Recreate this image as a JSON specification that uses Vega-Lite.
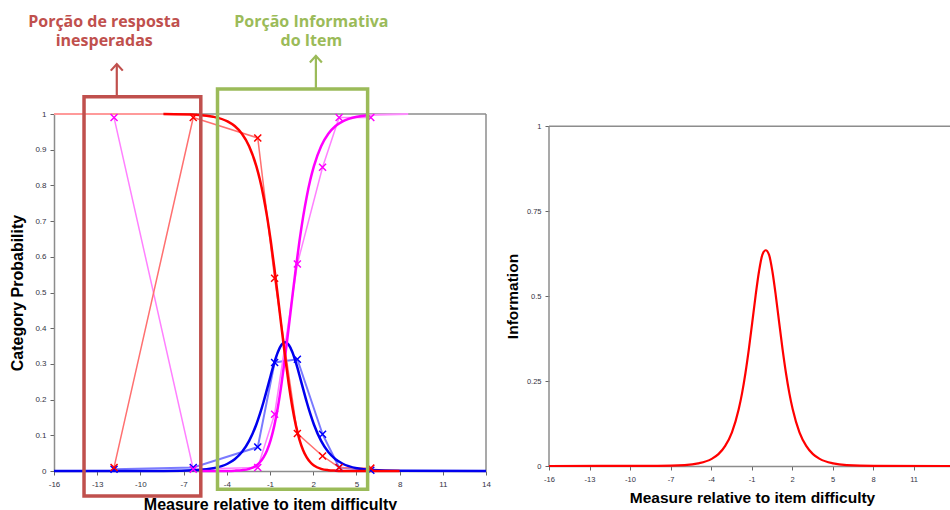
{
  "$schema": "https://vega.github.io/schema/vega-lite/v6.json",
  "padding": {"left": 9, "top": 13, "right": 0, "bottom": 0},
  "background": "white",
  "bounds": "flush",
  "spacing": 63,
  "config": {
    "view": {"stroke": null},
    "font": "Liberation Sans",
    "axis": {"grid": false, "domainColor": "#8c8c8c", "domainWidth": 1.5, "tickColor": "#666666", "tickSize": 4, "tickWidth": 1, "labelFont": "Liberation Sans", "labelFontSize": 8, "labelColor": "#333344", "labelPadding": 4, "titleFont": "Liberation Sans", "titleFontWeight": "bold", "titleColor": "#000000", "labelFlush": false, "labelOverlap": false, "labelExpr": "'' + datum.value"}
  },
  "datasets": {
    "model": [
      {"s":"P1","x":-16,"y":0},{"s":"P1","x":-8.4,"y":0.0003},{"s":"P1","x":-5.95,"y":0.0028},{"s":"P1","x":-4.95,"y":0.0075},{"s":"P1","x":-3.95,"y":0.0203},{"s":"P1","x":-3.45,"y":0.0329},{"s":"P1","x":-2.95,"y":0.053},{"s":"P1","x":-2.45,"y":0.0842},{"s":"P1","x":-1.95,"y":0.1303},{"s":"P1","x":-1.7,"y":0.1598},{"s":"P1","x":-1.45,"y":0.1933},{"s":"P1","x":-1.2,"y":0.2299},{"s":"P1","x":-0.95,"y":0.2676},{"s":"P1","x":-0.7,"y":0.3033},{"s":"P1","x":-0.45,"y":0.3333},{"s":"P1","x":-0.2,"y":0.3534},{"s":"P1","x":0.05,"y":0.3605},{"s":"P1","x":0.3,"y":0.3534},{"s":"P1","x":0.55,"y":0.3333},{"s":"P1","x":0.8,"y":0.3033},{"s":"P1","x":1.05,"y":0.2676},{"s":"P1","x":1.3,"y":0.2299},{"s":"P1","x":1.55,"y":0.1933},{"s":"P1","x":1.8,"y":0.1598},{"s":"P1","x":2.05,"y":0.1303},{"s":"P1","x":2.55,"y":0.0842},{"s":"P1","x":3.05,"y":0.053},{"s":"P1","x":3.55,"y":0.0329},{"s":"P1","x":4.05,"y":0.0203},{"s":"P1","x":5.05,"y":0.0075},{"s":"P1","x":6.05,"y":0.0028},{"s":"P1","x":8,"y":0.0004},{"s":"P1","x":14,"y":0},
      {"s":"P2","x":-5.8,"y":0},{"s":"P2","x":-4.95,"y":0},{"s":"P2","x":-3.95,"y":0.0003},{"s":"P2","x":-3.45,"y":0.0009},{"s":"P2","x":-2.95,"y":0.0023},{"s":"P2","x":-2.45,"y":0.0061},{"s":"P2","x":-1.95,"y":0.0156},{"s":"P2","x":-1.7,"y":0.0246},{"s":"P2","x":-1.45,"y":0.0383},{"s":"P2","x":-1.2,"y":0.0584},{"s":"P2","x":-0.95,"y":0.0873},{"s":"P2","x":-0.7,"y":0.1271},{"s":"P2","x":-0.45,"y":0.1793},{"s":"P2","x":-0.2,"y":0.2441},{"s":"P2","x":0.05,"y":0.3197},{"s":"P2","x":0.3,"y":0.4025},{"s":"P2","x":0.55,"y":0.4874},{"s":"P2","x":0.8,"y":0.5696},{"s":"P2","x":1.05,"y":0.6451},{"s":"P2","x":1.3,"y":0.7117},{"s":"P2","x":1.55,"y":0.7684},{"s":"P2","x":1.8,"y":0.8156},{"s":"P2","x":2.05,"y":0.854},{"s":"P2","x":2.55,"y":0.9097},{"s":"P2","x":3.05,"y":0.9446},{"s":"P2","x":3.55,"y":0.9663},{"s":"P2","x":4.05,"y":0.9794},{"s":"P2","x":5.05,"y":0.9924},{"s":"P2","x":5.8,"y":0.9965},
      {"s":"P0","x":-8.4,"y":0.9997},{"s":"P0","x":-5.95,"y":0.9972},{"s":"P0","x":-4.95,"y":0.9924},{"s":"P0","x":-3.95,"y":0.9794},{"s":"P0","x":-3.45,"y":0.9663},{"s":"P0","x":-2.95,"y":0.9446},{"s":"P0","x":-2.45,"y":0.9097},{"s":"P0","x":-1.95,"y":0.854},{"s":"P0","x":-1.7,"y":0.8156},{"s":"P0","x":-1.45,"y":0.7684},{"s":"P0","x":-1.2,"y":0.7117},{"s":"P0","x":-0.95,"y":0.6451},{"s":"P0","x":-0.7,"y":0.5696},{"s":"P0","x":-0.45,"y":0.4874},{"s":"P0","x":-0.2,"y":0.4025},{"s":"P0","x":0.05,"y":0.3197},{"s":"P0","x":0.3,"y":0.2441},{"s":"P0","x":0.55,"y":0.1793},{"s":"P0","x":0.8,"y":0.1271},{"s":"P0","x":1.05,"y":0.0873},{"s":"P0","x":1.3,"y":0.0584},{"s":"P0","x":1.55,"y":0.0383},{"s":"P0","x":1.8,"y":0.0246},{"s":"P0","x":2.05,"y":0.0156},{"s":"P0","x":2.55,"y":0.0061},{"s":"P0","x":3.05,"y":0.0023},{"s":"P0","x":3.55,"y":0.0009},{"s":"P0","x":4.05,"y":0.0003},{"s":"P0","x":5.05,"y":0},{"s":"P0","x":8,"y":0}
    ],
    "edges": [
      {"s":"L0","x":-16,"y":1},{"s":"L0","x":-8.4,"y":1},
      {"s":"L2","x":5.8,"y":0.997},{"s":"L2","x":8.6,"y":1}
    ],
    "empirical": [
      {"s":"E0","x":-11.83,"y":0.01},{"s":"E0","x":-6.33,"y":0.99},{"s":"E0","x":-1.85,"y":0.933},{"s":"E0","x":-0.68,"y":0.54},{"s":"E0","x":0.9,"y":0.105},{"s":"E0","x":2.65,"y":0.042},{"s":"E0","x":3.8,"y":0.01},{"s":"E0","x":6.0,"y":0.008},
      {"s":"E1","x":-11.83,"y":0.005},{"s":"E1","x":-6.33,"y":0.01},{"s":"E1","x":-1.85,"y":0.067},{"s":"E1","x":-0.68,"y":0.304},{"s":"E1","x":0.9,"y":0.313},{"s":"E1","x":2.65,"y":0.103},{"s":"E1","x":3.8,"y":0.01},{"s":"E1","x":6.0,"y":0.002},
      {"s":"E2","x":-11.83,"y":0.99},{"s":"E2","x":-6.33,"y":0.005},{"s":"E2","x":-1.85,"y":0.01},{"s":"E2","x":-0.68,"y":0.159},{"s":"E2","x":0.9,"y":0.58},{"s":"E2","x":2.65,"y":0.851},{"s":"E2","x":3.8,"y":0.99},{"s":"E2","x":6.0,"y":0.99}
    ],
    "frameL": [
      {"x":-16,"x2":14,"y":1,"y2":1},{"x":14,"x2":14,"y":0,"y2":1}
    ],
    "boxes": [
      {"b":"red","x":-13.915,"x2":-5.806,"y":1.048,"y2":-0.07},
      {"b":"green","x":-4.645,"x2":5.779,"y":1.07,"y2":-0.051}
    ],
    "arrows": [
      {"b":"red","x":-11.64,"y":1.048,"y2":1.14},
      {"b":"green","x":2.186,"y":1.07,"y2":1.163}
    ],
    "labels": [
      {"b":"red","t":"Porção de resposta","x":-12.51,"y":1.245},
      {"b":"red","t":"inesperadas","x":-12.51,"y":1.191},
      {"b":"green","t":"Porção Informativa","x":1.873,"y":1.245},
      {"b":"green","t":"do Item","x":1.873,"y":1.191}
    ],
    "frameR": [
      {"x":-16,"x2":13.7,"y":1,"y2":1},{"x":-16,"x2":-16,"y":0,"y2":1}
    ],
    "info": [
      {"x":-16,"y":0},{"x":-7.95,"y":0.0004},{"x":-5.95,"y":0.0028},{"x":-4.95,"y":0.0078},{"x":-3.95,"y":0.0211},{"x":-3.45,"y":0.0349},{"x":-2.95,"y":0.0593},{"x":-2.45,"y":0.0993},{"x":-1.95,"y":0.167},{"x":-1.7,"y":0.2145},{"x":-1.45,"y":0.2737},{"x":-1.2,"y":0.3433},{"x":-0.95,"y":0.4213},{"x":-0.7,"y":0.5009},{"x":-0.45,"y":0.5718},{"x":-0.2,"y":0.6215},{"x":0.05,"y":0.635},{"x":0.3,"y":0.6215},{"x":0.55,"y":0.5718},{"x":0.8,"y":0.5009},{"x":1.05,"y":0.4213},{"x":1.3,"y":0.3433},{"x":1.55,"y":0.2737},{"x":1.8,"y":0.2145},{"x":2.05,"y":0.167},{"x":2.55,"y":0.0993},{"x":3.05,"y":0.0593},{"x":3.55,"y":0.0349},{"x":4.05,"y":0.0211},{"x":5.05,"y":0.0078},{"x":6.05,"y":0.0028},{"x":8.05,"y":0.0004},{"x":13.7,"y":0}
    ]
  },
  "hconcat": [
    {
      "width": 432,
      "height": 357,
      "encoding": {
        "x": {"field": "x", "type": "quantitative", "scale": {"domain": [-16, 14], "nice": false, "zero": false},
              "axis": {"values": [-16,-13,-10,-7,-4,-1,2,5,8,11,14], "title": "Measure relative to item difficulty", "titleFontSize": 16, "titlePadding": 8, "labelPadding": 5}},
        "y": {"field": "y", "type": "quantitative", "scale": {"domain": [0, 1], "nice": false, "zero": false},
              "axis": {"values": [0,0.1,0.2,0.3,0.4,0.5,0.6,0.7,0.8,0.9,1], "title": "Category Probability", "titleFontSize": 16, "titlePadding": 9}}
      },
      "layer": [
        {"data": {"name": "frameL"}, "mark": {"type": "rule", "color": "#8c8c8c", "strokeWidth": 1.5},
         "encoding": {"x2": {"field": "x2"}, "y2": {"field": "y2"}}},
        {"data": {"name": "empirical"}, "transform": [{"filter": "datum.s == 'E1'"}],
         "mark": {"type": "line", "color": "#7a7aff", "strokeWidth": 2}, "encoding": {}},
        {"data": {"name": "empirical"}, "transform": [{"filter": "datum.s == 'E2'"}],
         "mark": {"type": "line", "color": "#ff80ff", "strokeWidth": 1.5}, "encoding": {}},
        {"data": {"name": "empirical"}, "transform": [{"filter": "datum.s == 'E0'"}],
         "mark": {"type": "line", "color": "#ff7070", "strokeWidth": 1.5}, "encoding": {}},
        {"data": {"name": "edges"}, "transform": [{"filter": "datum.s == 'L0'"}],
         "mark": {"type": "line", "color": "#ff9a9a", "strokeWidth": 2}, "encoding": {}},
        {"data": {"name": "edges"}, "transform": [{"filter": "datum.s == 'L2'"}],
         "mark": {"type": "line", "color": "#ff8cff", "strokeWidth": 2}, "encoding": {}},
        {"data": {"name": "model"}, "transform": [{"filter": "datum.s == 'P1'"}],
         "mark": {"type": "line", "color": "#0000ee", "strokeWidth": 2.5, "interpolate": "monotone"}, "encoding": {}},
        {"data": {"name": "model"}, "transform": [{"filter": "datum.s == 'P2'"}],
         "mark": {"type": "line", "color": "#ff00ff", "strokeWidth": 2.5, "interpolate": "monotone"}, "encoding": {}},
        {"data": {"name": "model"}, "transform": [{"filter": "datum.s == 'P0'"}],
         "mark": {"type": "line", "color": "#ff0000", "strokeWidth": 2.5, "interpolate": "monotone"}, "encoding": {}},
        {"data": {"name": "empirical"}, "transform": [{"filter": "datum.s == 'E1'"}],
         "mark": {"type": "point", "shape": "M-1,-1L1,1M-1,1L1,-1", "filled": false, "size": 49, "strokeWidth": 1.5, "color": "#0000ff", "opacity": 1}},
        {"data": {"name": "empirical"}, "transform": [{"filter": "datum.s == 'E2'"}],
         "mark": {"type": "point", "shape": "M-1,-1L1,1M-1,1L1,-1", "filled": false, "size": 49, "strokeWidth": 1.5, "color": "#ff00ff", "opacity": 1}},
        {"data": {"name": "empirical"}, "transform": [{"filter": "datum.s == 'E0'"}],
         "mark": {"type": "point", "shape": "M-1,-1L1,1M-1,1L1,-1", "filled": false, "size": 49, "strokeWidth": 1.5, "color": "#ff0000", "opacity": 1}},
        {"data": {"name": "boxes"}, "transform": [{"filter": "datum.b == 'red'"}],
         "mark": {"type": "rect", "fill": null, "fillOpacity": 0, "stroke": "#c0504d", "strokeWidth": 3.5},
         "encoding": {"x2": {"field": "x2"}, "y2": {"field": "y2"}}},
        {"data": {"name": "boxes"}, "transform": [{"filter": "datum.b == 'green'"}],
         "mark": {"type": "rect", "fill": null, "fillOpacity": 0, "stroke": "#9bbb59", "strokeWidth": 3.5},
         "encoding": {"x2": {"field": "x2"}, "y2": {"field": "y2"}}},
        {"data": {"name": "arrows"}, "transform": [{"filter": "datum.b == 'red'"}],
         "mark": {"type": "rule", "color": "#c0504d", "strokeWidth": 2.2},
         "encoding": {"y2": {"field": "y2"}}},
        {"data": {"name": "arrows"}, "transform": [{"filter": "datum.b == 'green'"}],
         "mark": {"type": "rule", "color": "#9bbb59", "strokeWidth": 2.2},
         "encoding": {"y2": {"field": "y2"}}},
        {"data": {"name": "arrows"}, "transform": [{"filter": "datum.b == 'red'"}],
         "mark": {"type": "point", "shape": "M-1,1.1L0,0L1,1.1", "filled": false, "size": 144, "strokeWidth": 2.2, "color": "#c0504d", "opacity": 1},
         "encoding": {"y": {"field": "y2", "type": "quantitative"}}},
        {"data": {"name": "arrows"}, "transform": [{"filter": "datum.b == 'green'"}],
         "mark": {"type": "point", "shape": "M-1,1.1L0,0L1,1.1", "filled": false, "size": 144, "strokeWidth": 2.2, "color": "#9bbb59", "opacity": 1},
         "encoding": {"y": {"field": "y2", "type": "quantitative"}}},
        {"data": {"name": "labels"}, "transform": [{"filter": "datum.b == 'red'"}],
         "mark": {"type": "text", "font": "Open Sans", "fontWeight": "bold", "fontSize": 16, "align": "center", "baseline": "alphabetic", "color": "#c0504d"},
         "encoding": {"text": {"field": "t"}}},
        {"data": {"name": "labels"}, "transform": [{"filter": "datum.b == 'green'"}],
         "mark": {"type": "text", "font": "Open Sans", "fontWeight": "bold", "fontSize": 16, "align": "center", "baseline": "alphabetic", "color": "#9bbb59"},
         "encoding": {"text": {"field": "t"}}}
      ]
    },
    {
      "width": 401,
      "height": 352,
      "encoding": {
        "x": {"field": "x", "type": "quantitative", "scale": {"domain": [-16, 13.7], "nice": false, "zero": false},
              "axis": {"values": [-16,-13,-10,-7,-4,-1,2,5,8,11], "title": "Measure relative to item difficulty", "titleFontSize": 15.5, "titlePadding": 8, "titleX": 203, "labelPadding": 5, "labelFontSize": 7.5}},
        "y": {"field": "y", "type": "quantitative", "scale": {"domain": [0, 1.036], "nice": false, "zero": false},
              "axis": {"values": [0,0.25,0.5,0.75,1], "domain": false, "title": "Information", "titleFontSize": 15.5, "titlePadding": 6, "titleY": 182, "labelFontSize": 7.5}}
      },
      "layer": [
        {"data": {"name": "frameR"}, "mark": {"type": "rule", "color": "#8c8c8c", "strokeWidth": 1.5},
         "encoding": {"x2": {"field": "x2"}, "y2": {"field": "y2"}}},
        {"data": {"name": "info"}, "mark": {"type": "line", "color": "#ff0000", "strokeWidth": 2.2, "interpolate": "monotone"}, "encoding": {}}
      ]
    }
  ]
}
